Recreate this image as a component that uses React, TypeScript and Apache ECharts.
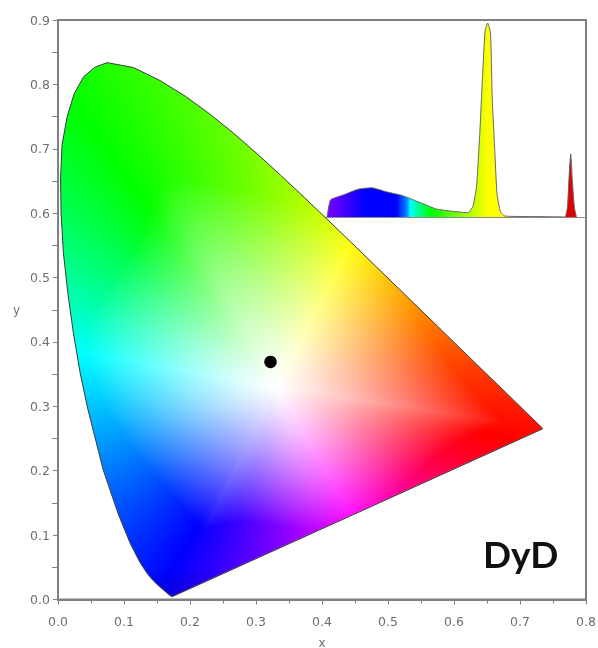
import React, { useEffect, useRef } from "react";
import * as echarts from "echarts";

const locusX = [0.1741,0.1738,0.1733,0.1726,0.1714,0.1703,0.1689,0.1669,0.1644,0.1611,0.1566,0.151,0.144,0.1355,0.1241,0.1096,0.0913,0.0687,0.0454,0.0337,0.0235,0.015,0.0082,0.0047,0.0039,0.0062,0.0139,0.0245,0.0389,0.0557,0.0743,0.1142,0.1547,0.1929,0.2296,0.2658,0.3016,0.3373,0.3731,0.4087,0.4441,0.4788,0.5125,0.5448,0.5752,0.6029,0.627,0.6482,0.6658,0.6801,0.6915,0.7006,0.7079,0.714,0.719,0.723,0.726,0.7283,0.73,0.732,0.7334,0.7347];
const locusY = [0.005,0.0049,0.0048,0.0048,0.0051,0.0058,0.0069,0.0086,0.0109,0.0138,0.0177,0.0227,0.0297,0.0399,0.0578,0.0868,0.1327,0.2007,0.295,0.3512,0.4127,0.475,0.5384,0.599,0.6548,0.7065,0.7502,0.7855,0.812,0.8265,0.8338,0.8262,0.8059,0.7816,0.7543,0.7243,0.6923,0.6589,0.6245,0.5896,0.5547,0.5202,0.4866,0.4544,0.4242,0.3965,0.3725,0.3514,0.334,0.3197,0.3083,0.2993,0.292,0.2859,0.2809,0.277,0.274,0.2717,0.27,0.268,0.2666,0.2653];
const pointXY = [0.322, 0.369];

const specNm = [403.3,407,420.5,436.6,451,467,484.7,499.4,521,538.4,554.6,560,564,567.5,570.4,573.2,576,579,581,583.6,586,589.7,594.4,627.7,658.9,661.8,663.5,665.3,667,669.3,671.5];
const specI = [0,0.088,0.113,0.143,0.151,0.13,0.11,0.082,0.041,0.029,0.022,0.053,0.156,0.43,0.72,0.96,1,0.95,0.6,0.345,0.12,0.027,0.005,0.002,0,0.053,0.208,0.325,0.19,0.046,0];
const stopNm = [403.3,425,445,478,489,493,503,515,555,576,594,655,671.5];
const stopColor = ["#7a00ff","#3a00ff","#0000ff","#0000ff","#0088ff","#00ffff","#00ff80","#00ff00","#a8ff00","#ffff00","#ffff00","#e00000","#e00000"];

// Shading anchors of the horseshoe: direction from the white point (degrees), hue there,
// and the fraction of the way to the locus at which the colour is fully saturated
const whiteXY = [0.331, 0.33];
const rayAngle = [-13, 63, 125, 170, 241, 300, 347];
const rayHue = [0, 60, 120, 180, 240, 300, 360];
const rayFull = [0.85, 1.05, 0.62, 0.95, 0.68, 1.05, 0.85];

function rayAt(deg: number): [number, number] {
  let a = deg;
  if (a < rayAngle[0]) a += 360;
  for (let i = 0; i < rayAngle.length - 1; i++) {
    if (a <= rayAngle[i + 1]) {
      const f = (a - rayAngle[i]) / (rayAngle[i + 1] - rayAngle[i]);
      const e = f * f * (3 - 2 * f);
      return [rayHue[i] + f * (rayHue[i + 1] - rayHue[i]), rayFull[i] + e * (rayFull[i + 1] - rayFull[i])];
    }
  }
  return [0, rayFull[0]];
}

function makeGamut(): string {
  const W = 1056, H = 1159;
  const c = document.createElement("canvas");
  c.width = W; c.height = H;
  const ctx = c.getContext("2d")!;
  const img = ctx.createImageData(W, H);
  // distance from white to the locus, per half degree
  const radius: number[] = [];
  for (let k = 0; k < 720; k++) {
    const th = (k / 2) * Math.PI / 180, dx = Math.cos(th), dy = Math.sin(th);
    let best = 1;
    for (let i = 0; i < locusX.length; i++) {
      const j = (i + 1) % locusX.length;
      const ax = locusX[i] - whiteXY[0], ay = locusY[i] - whiteXY[1];
      const bx = locusX[j] - whiteXY[0] - ax, by = locusY[j] - whiteXY[1] - ay;
      const det = dx * by - dy * bx;
      if (Math.abs(det) < 1e-9) continue;
      const t = (ax * by - ay * bx) / det;
      const u = (ax * dy - ay * dx) / det;
      if (t > 0 && u >= 0 && u <= 1) best = t;
    }
    radius.push(best);
  }
  for (let j = 0; j < H; j++) {
    const y = 0.9 * (1 - (j + 0.5) / H);
    for (let i = 0; i < W; i++) {
      const x = 0.8 * ((i + 0.5) / W);
      const dx = x - whiteXY[0], dy = y - whiteXY[1];
      const deg = (Math.atan2(dy, dx) * 180) / Math.PI;
      const d = Math.hypot(dx, dy);
      const bin = Math.round(((deg + 360) % 360) * 2) % 720;
      const [hue, full] = rayAt(deg);
      const s = Math.pow(Math.min(1, d / radius[bin] / full), 1.2);
      const h = hue / 60;
      const f = (n: number) => {
        const q = (n + h) % 6;
        return 1 - s * Math.max(0, Math.min(q, 4 - q, 1));
      };
      const v = y < 0.05 ? 0.85 + 3 * y : 1;
      const k = (i + j * W) * 4;
      img.data[k] = 255 * v * f(5);
      img.data[k + 1] = 255 * v * f(3);
      img.data[k + 2] = 255 * v * f(1);
      img.data[k + 3] = 255;
    }
  }
  ctx.putImageData(img, 0, 0);
  ctx.globalCompositeOperation = "destination-in";
  ctx.beginPath();
  locusX.forEach((x, i) => {
    const px = (x / 0.8) * W, py = (1 - locusY[i] / 0.9) * H;
    if (i) ctx.lineTo(px, py); else ctx.moveTo(px, py);
  });
  ctx.closePath();
  ctx.fill();
  return c.toDataURL("image/png");
}

export default function App() {
  const ref = useRef<HTMLDivElement>(null);
  useEffect(() => {
    const chart = echarts.init(ref.current!, undefined, { renderer: "svg" });
    const gamut = makeGamut();
    const lo = specNm[0], hi = specNm[specNm.length - 1];
    const labelFont = { color: "#6e6e72", fontFamily: "DejaVu Sans", fontSize: 12.5 };
    chart.setOption({
      animation: false,
      backgroundColor: "#ffffff",
      grid: [
        { left: 58, top: 20, width: 528, height: 579.5, show: true, borderColor: "#808080", borderWidth: 2, backgroundColor: "#fff", outerBoundsMode: "none" },
        { left: 324, top: 23, width: 260.4, height: 194, show: false, outerBoundsMode: "none" },
      ],
      xAxis: [
        {
          gridIndex: 0, type: "value", min: 0, max: 0.8, interval: 0.1, name: "x", nameLocation: "middle", nameGap: 37,
          nameTextStyle: { color: "#6e6e72", fontFamily: "DejaVu Sans", fontSize: 12 },
          splitLine: { show: false },
          axisLine: { lineStyle: { color: "#808080", width: 2 } },
          axisTick: { length: 5, lineStyle: { color: "#808080" } },
          minorTick: { show: true, splitNumber: 2, length: 4, lineStyle: { color: "#808080" } },
          axisLabel: { ...labelFont, margin: 15, formatter: (v: number) => v.toFixed(1) },
        },
        {
          gridIndex: 1, type: "value", min: 400, max: 680, show: true,
          splitLine: { show: false }, axisTick: { show: false }, axisLabel: { show: false },
          axisLine: { lineStyle: { color: "#8a8a8a", width: 1 } },
        },
      ],
      yAxis: [
        {
          gridIndex: 0, type: "value", min: 0, max: 0.9, interval: 0.1, name: "y", nameLocation: "middle", nameGap: 38, nameRotate: 0,
          nameTextStyle: { color: "#6e6e72", fontFamily: "DejaVu Sans", fontSize: 12, padding: [0, 0, 16, 0] },
          splitLine: { show: false },
          axisLine: { lineStyle: { color: "#808080", width: 2 } },
          axisTick: { length: 5, lineStyle: { color: "#808080" } },
          minorTick: { show: true, splitNumber: 2, length: 6, lineStyle: { color: "#808080" } },
          axisLabel: { ...labelFont, margin: 8, formatter: (v: number) => v.toFixed(1) },
        },
        { gridIndex: 1, type: "value", min: 0, max: 1, show: false, splitLine: { show: false } },
      ],
      series: [
        {
          type: "custom", xAxisIndex: 0, yAxisIndex: 0, coordinateSystem: "cartesian2d", silent: true, z: 1, clip: false,
          data: [[0, 0]],
          renderItem: (_p: any, api: any) => {
            const tl = api.coord([0, 0.9]);
            const br = api.coord([0.8, 0]);
            const pts = locusX.map((x, i) => api.coord([x, locusY[i]]));
            return {
              type: "group",
              children: [
                { type: "image", style: { image: gamut, x: tl[0], y: tl[1], width: br[0] - tl[0], height: br[1] - tl[1] } },
                { type: "polygon", shape: { points: pts }, style: { fill: "none", stroke: "#3a3a3a", lineWidth: 1 } },
              ],
            };
          },
        },
        {
          type: "scatter", xAxisIndex: 0, yAxisIndex: 0, z: 3, symbol: "circle", symbolSize: 12.5,
          itemStyle: { color: "#000", opacity: 1 }, data: [pointXY],
        },
        {
          type: "line", xAxisIndex: 1, yAxisIndex: 1, z: 4, symbol: "none", smooth: 0.15,
          lineStyle: { color: "#666", width: 1 },
          areaStyle: {
            opacity: 1,
            color: new echarts.graphic.LinearGradient(0, 0, 1, 0,
              stopNm.map((n, i) => ({ offset: (n - lo) / (hi - lo), color: stopColor[i] }))),
          },
          data: specNm.map((n, i) => [n, specI[i]]),
        },
      ],
      graphic: [
        { type: "text", left: 483, top: 535, z: 10, style: { text: "DyD", fill: "#111", font: "bold 37px Lato" } },
      ],
    });
    return () => chart.dispose();
  }, []);
  return <div ref={ref} style={{ width: 598, height: 648, position: "absolute", left: 0, top: 0, filter: "blur(0.4px)" }} />;
}
